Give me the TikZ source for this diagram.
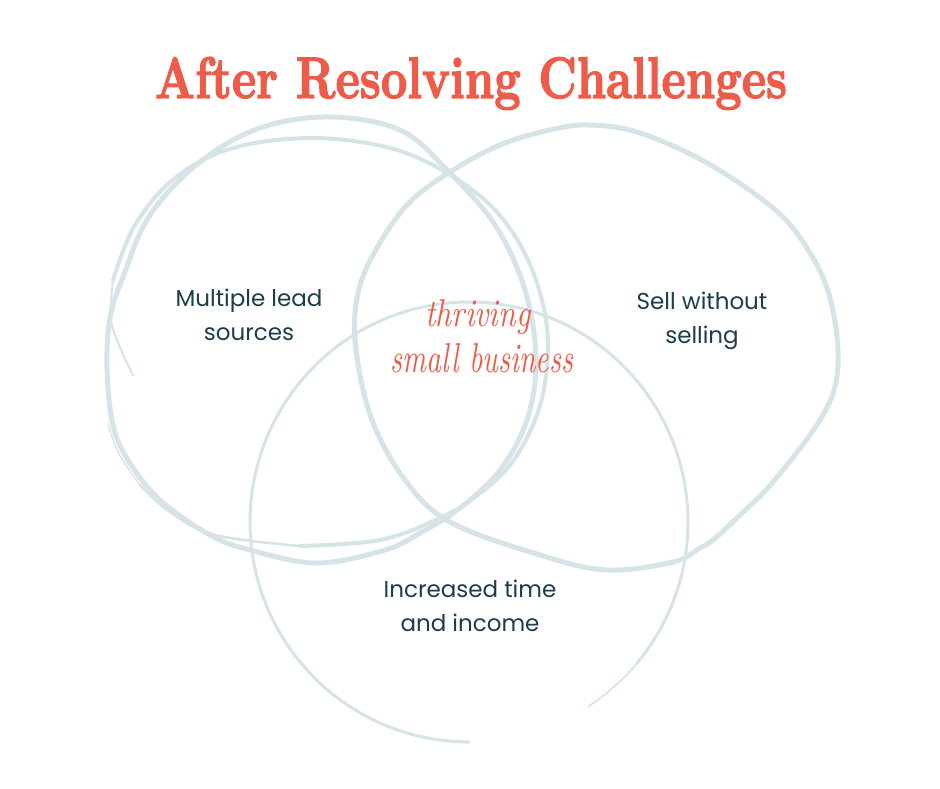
\documentclass[tikz,border=0pt]{standalone}
\usepackage{fontspec}
\usepackage{graphicx}
\newfontfamily\bodyfont{Poppins}
\newfontfamily\titlefont{lmroman10-bold.otf}[FakeBold=2.2]
\definecolor{coral}{RGB}{238,91,72}
\definecolor{ringc}{RGB}{214,228,232}
\definecolor{ink}{RGB}{28,62,72}
\begin{document}
\begin{tikzpicture}[x=1pt,y=-1pt,
  ring/.style={draw=ringc, line cap=round, line join=round},
  lbl/.style={font=\bodyfont\fontsize{23}{34}\selectfont, text=ink, align=center, inner sep=0pt, anchor=base},
  script/.style={text=coral, inner sep=0pt, anchor=base}]
\useasboundingbox (0,0) rectangle (940,788);
\fill[white] (0,0) rectangle (940,788);

% left double loop: stroke E1 (closed)
\draw[ring, line width=5pt] plot[smooth cycle, tension=0.6] coordinates {
 (330,117) (400,130) (447,170) (495,225) (525,290) (536,360) (527,420) (500,470)
 (460,508) (420,533) (385,550) (317,563) (250,550) (210,535) (160,500) (128,460)
 (113,425) (107,370) (110,318) (123,277) (150,215) (200,162) (260,128)};

% left double loop: stroke E2 (open, tapered ends)
\draw[ring, line width=1.3pt] plot[smooth, tension=0.6] coordinates {
 (108,423) (118,452) (140,485)};
\draw[ring, line width=2.6pt] plot[smooth, tension=0.6] coordinates {
 (140,485) (170,512) (215,535) (300,546)};
\draw[ring, line width=4pt] plot[smooth, tension=0.6] coordinates {
 (300,546) (380,540) (440,518) (475,497) (510,465) (535,420) (546,375)
 (546,320) (528,260) (495,210) (447,173) (390,148) (313,138) (233,148)
 (175,178) (135,225) (113,280)};
\draw[ring, line width=2pt] plot[smooth, tension=0.6] coordinates {
 (113,280) (111,320) (122,352) (133,375)};

% right blob
\draw[ring, line width=5pt] plot[smooth cycle, tension=0.6] coordinates {
 (590,125) (640,133) (707,163) (773,208) (807,248) (830,298) (838,365) (823,415)
 (773,482) (740,515) (713,540) (700,548) (673,562) (607,570) (540,555) (450,522)
 (405,480) (372,420) (356,350) (357,298) (373,255) (407,205) (450,172) (500,145)
 (550,130)};

% bottom circle
\draw[ring, line width=3pt] plot[smooth, domain=90:400, samples=80]
  ({469+219*cos(\x)},{522+220*sin(\x)});
\draw[ring, line width=1.7pt] plot[smooth, domain=400:417, samples=10]
  ({469+219*cos(\x)},{522+220*sin(\x)});

% title
\node[text=coral, inner sep=0pt, anchor=base] (title) at (471,98)
  {\resizebox{632pt}{41pt}{\titlefont After Resolving Challenges}};

% labels (anchor base = baseline of last line)
\node[lbl] (lead) at (249,340) {Multiple lead\\sources};
\node[lbl] (sell) at (702,343) {Sell without\\selling};
\node[lbl] (time) at (470,631) {Increased time\\and income};

% centre script
\node[script] (thr) at (478,326) {\resizebox{105pt}{27pt}{\itshape thriving}};
\node[script] (smb) at (482,372) {\resizebox{182pt}{29pt}{\itshape small business}};
\end{tikzpicture}
\end{document}
